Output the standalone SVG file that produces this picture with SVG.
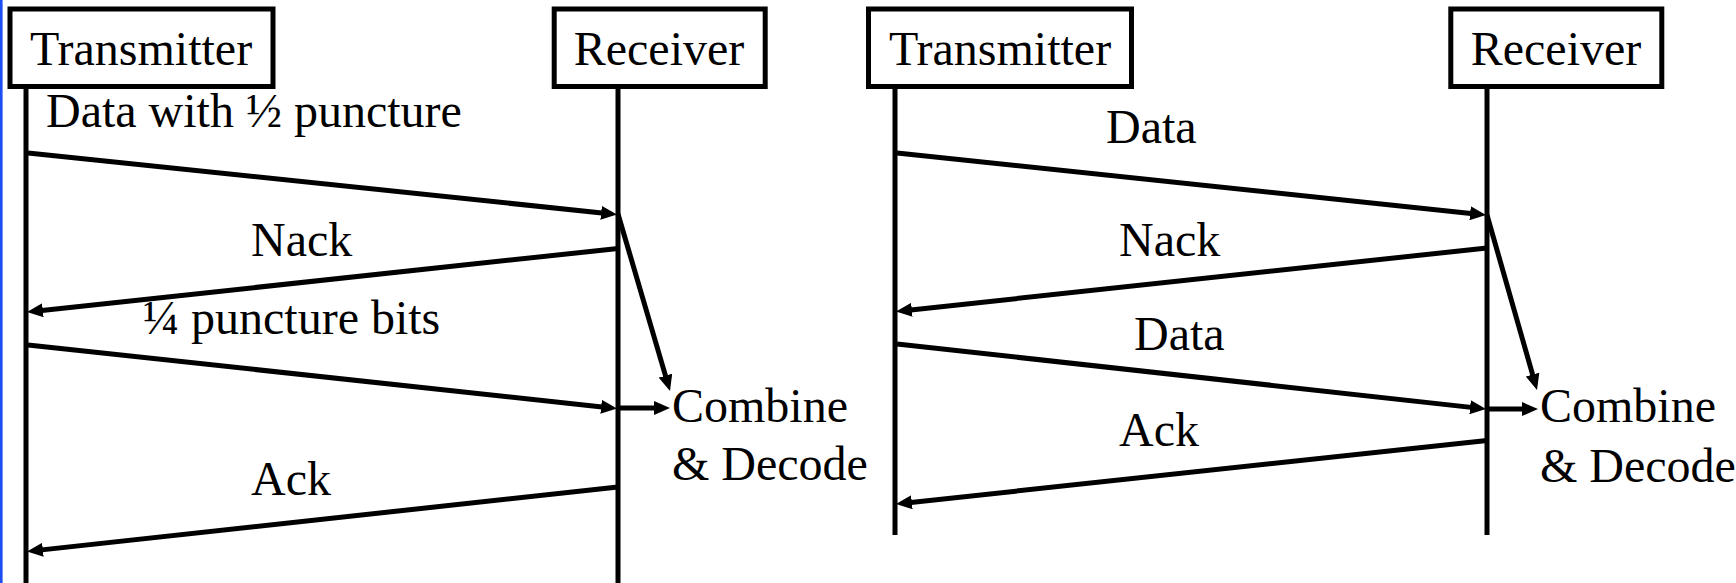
<svg xmlns="http://www.w3.org/2000/svg" width="1736" height="583" viewBox="0 0 1736 583">
<defs>
<style>
.box{fill:#fff;stroke:#000;stroke-width:5}
.life{stroke:#000;stroke-width:5;fill:none}
.msg{stroke:#000;stroke-width:5;fill:none;marker-end:url(#ah)}
text{font-family:"Liberation Serif","Times New Roman",serif;font-size:48px;fill:#000}
.c{text-anchor:middle}
</style>
<marker id="ah" markerUnits="userSpaceOnUse" markerWidth="16" markerHeight="14" refX="8" refY="7" orient="auto" viewBox="0 0 16 14">
<path d="M0,0 L16,7 L0,14 z" fill="#000"/>
</marker>
</defs>
<rect x="0" y="0" width="2.6" height="583" fill="#1c4ef4"/>

<g id="left-transmitter">
<rect class="box" x="10" y="9" width="263" height="77.5"/>
<text class="c" x="141" y="65">Transmitter</text>
<line class="life" x1="26" y1="88" x2="26" y2="583"/>
</g>
<g id="left-receiver">
<rect class="box" x="554.2" y="9" width="211" height="77.5"/>
<text class="c" x="659" y="65">Receiver</text>
<line class="life" x1="618" y1="88" x2="618" y2="583"/>
</g>
<g id="left-combine">
<text x="672" y="422">Combine</text>
<text x="672" y="480">&amp; Decode</text>
</g>

<g id="right-transmitter">
<rect class="box" x="868.5" y="9" width="263" height="77.5"/>
<text class="c" x="1000" y="65">Transmitter</text>
<line class="life" x1="895" y1="88" x2="895" y2="535"/>
</g>
<g id="right-receiver">
<rect class="box" x="1450.8" y="9" width="211" height="77.5"/>
<text class="c" x="1556" y="65">Receiver</text>
<line class="life" x1="1487" y1="88" x2="1487" y2="535"/>
</g>
<g id="right-combine">
<text x="1540" y="422">Combine</text>
<text x="1540" y="482">&amp; Decode</text>
</g>

<g id="connectors">
<line class="msg" x1="28" y1="153" x2="609.04" y2="213.67"/>
<line class="msg" x1="618" y1="248.5" x2="34.95" y2="311.15"/>
<line class="msg" x1="28" y1="345" x2="609.05" y2="407.64"/>
<line class="msg" x1="618" y1="487" x2="34.95" y2="550.63"/>
<line class="msg" x1="618" y1="214" x2="667.75" y2="383.33"/>
<line class="msg" x1="618" y1="408" x2="662" y2="408"/>

<line class="msg" x1="897" y1="153" x2="1478.04" y2="214.16"/>
<line class="msg" x1="1487" y1="248" x2="903.95" y2="310.65"/>
<line class="msg" x1="897" y1="344" x2="1478.05" y2="408.12"/>
<line class="msg" x1="1487" y1="440.5" x2="903.95" y2="503.15"/>
<line class="msg" x1="1487" y1="215" x2="1534.8" y2="382.3"/>
<line class="msg" x1="1487" y1="409" x2="1530" y2="409"/>
</g>

<g id="labels">
<text x="46" y="127">Data with ½ puncture</text>
<text x="251" y="256">Nack</text>
<text x="143" y="334">¼ puncture bits</text>
<text x="251" y="495">Ack</text>
<text x="1106" y="143">Data</text>
<text x="1119" y="256">Nack</text>
<text x="1134" y="350">Data</text>
<text x="1119" y="446">Ack</text>
</g>
</svg>
